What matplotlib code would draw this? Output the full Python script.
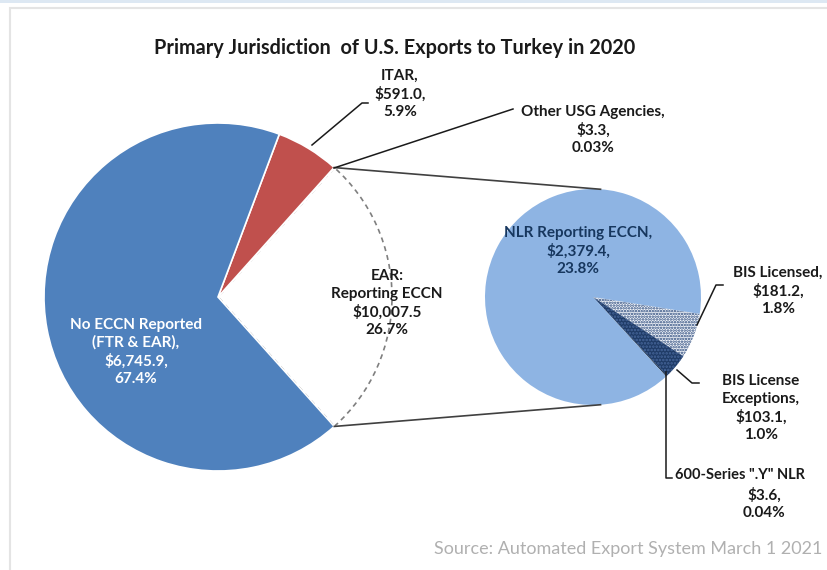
import numpy as np
import matplotlib.pyplot as plt
from matplotlib.patches import Rectangle

plt.rcParams['font.family'] = ['Lato', 'DejaVu Sans']
plt.rcParams['hatch.linewidth'] = 1.2

W, H = 827, 570

# main pie: share of exports (%), dollar values in millions
main_names = ["EAR:\nReporting ECCN", "Other USG Agencies", "ITAR", "No ECCN Reported\n(FTR & EAR)"]
main_pct = [26.7, 0.03, 5.9, 67.4]
main_usd = ["$10,007.5", "$3.3", "$591.0", "$6,745.9"]

# secondary pie: breakdown of EAR reporting ECCN
sub_names = ["BIS Licensed", "BIS License\nExceptions", "600-Series \".Y\" NLR", "NLR Reporting ECCN"]
sub_pct = [1.8, 1.0, 0.04, 23.8]
sub_usd = ["$181.2", "$103.1", "$3.6", "$2,379.4"]


def py(y):
    # pixel row (top-down) to data y (bottom-up)
    return H - y


fig = plt.figure(figsize=(W / 100, H / 100), dpi=100)
ax = fig.add_axes([0, 0, 1, 1])

# frame of the chart area
ax.add_patch(Rectangle((10, py(H + 5)), W, H - 3, fill=False, ec='#E4E4E4', lw=1.5))
ax.add_patch(Rectangle((0, py(3)), W, 3, color='#DDE8F3', lw=0))

big_c = (218, py(297))
big_r = 174
start = -main_pct[0] * 3.6 / 2
wedges, _ = ax.pie(main_pct, colors=['white', '#C0504D', '#C0504D', '#4F81BD'],
                   startangle=start, center=big_c, radius=big_r,
                   wedgeprops=dict(edgecolor='white', linewidth=1.2))
wedges[0].set_edgecolor('#7F7F7F')
wedges[0].set_linestyle((0, (3, 2.5)))
wedges[0].set_linewidth(1.2)
wedges[0].set_zorder(0.5)

sm_c = (593, py(297))
sm_r = 108
sub_start = -9
sw, _ = ax.pie(sub_pct, colors=['#F2F5FA', '#1F3B66', '#10253F', '#8EB4E3'],
               startangle=sub_start, counterclock=False, center=sm_c, radius=sm_r,
               wedgeprops=dict(linewidth=0))
sw[0].set_hatch('......')
sw[0].set_edgecolor('#28477A')
sw[0].set_linewidth(0)
sw[1].set_hatch('.....')
sw[1].set_edgecolor('#46669A')
sw[1].set_linewidth(0)

# connector lines between the two pies
a = np.deg2rad(main_pct[0] * 3.6 / 2)
for s in (1, -1):
    x0 = big_c[0] + big_r * np.cos(a)
    y0 = big_c[1] + s * big_r * np.sin(a)
    b = np.deg2rad(86)
    x1 = sm_c[0] + sm_r * np.cos(b)
    y1 = sm_c[1] + s * sm_r * np.sin(b)
    ax.plot([x0, x1], [y0, y1], color='#404040', lw=1.2)

ax.set_xlim(0, W)
ax.set_ylim(0, H)
ax.axis('off')

lbl = dict(ha='center', va='center', fontsize=11, fontweight='bold', linespacing=1.3)

ax.text(395, py(48), "Primary Jurisdiction  of U.S. Exports to Turkey in 2020",
        ha='center', va='center', fontsize=14.3, fontweight='bold', color='#1A1A1A')

# main pie labels
ax.text(387, py(303), f"{main_names[0]}\n{main_usd[0]}\n{main_pct[0]:.1f}%", color='#1A1A1A', **lbl)
ax.text(593, py(130), f"{main_names[1]},\n{main_usd[1]},\n{main_pct[1]:.2f}%", color='#1A1A1A', **lbl)
ax.text(400, py(94), f"{main_names[2]},\n{main_usd[2]},\n{main_pct[2]:.1f}%", color='#1A1A1A', **lbl)
ax.text(136, py(352), f"{main_names[3]},\n{main_usd[3]},\n{main_pct[3]:.1f}%", color='white', **lbl)

# secondary pie labels
ax.text(578, py(251), f"{sub_names[3]},\n{sub_usd[3]},\n{sub_pct[3]:.1f}%", color='#17375E', **lbl)
ax.text(778, py(291), f"{sub_names[0]},\n{sub_usd[0]},\n{sub_pct[0]:.1f}%", color='#1A1A1A', **lbl)
ax.text(761, py(408), f"{sub_names[1]},\n{sub_usd[1]},\n{sub_pct[1]:.1f}%", color='#1A1A1A', **lbl)
ax.text(675, py(475), sub_names[2], ha='left', va='center', fontsize=10.5,
        fontweight='bold', color='#1A1A1A')
ax.text(764, py(504), f"{sub_usd[2]},\n{sub_pct[2]:.2f}%", color='#1A1A1A', **lbl)

# leader lines
lead = dict(color='#1A1A1A', lw=1.1)
ax.plot([312, 362, 368], [py(145), py(103), py(103)], **lead)
ax.plot([334, 513], [py(168), py(109)], **lead)
ax.plot([697, 716, 723], [py(325), py(285), py(285)], **lead)
ax.plot([677, 692, 699], [py(370), py(383), py(383)], **lead)
ax.plot([666, 666, 672], [py(372), py(478), py(478)], **lead)

ax.text(822, py(549), "Source: Automated Export System March 1 2021",
        ha='right', va='center', fontsize=13, color='#B0B0B0')

fig.savefig('out.png', dpi=100)
